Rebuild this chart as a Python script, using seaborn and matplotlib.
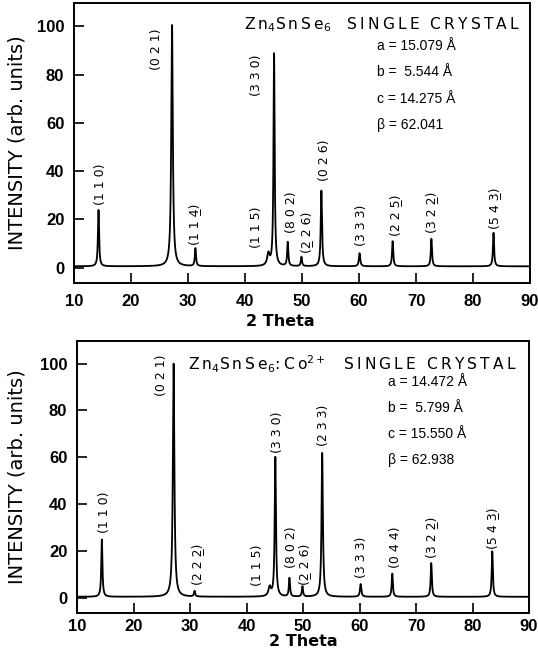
import numpy as np
import pandas as pd
import seaborn as sns
import matplotlib
matplotlib.use("Agg")
import matplotlib.pyplot as plt

# peak tables (2theta in deg, intensity in arb. units)
UL = "\u0332"  # combining low line -> negative index

hkl_top = ["(1 1 0)", "(0 2 1)", "(1 1 4" + UL + ")", "(1 1 5)", "(3 3 0)", "(8 0 2)",
           "(2" + UL + " 2 6)", "(0 2 6)", "(3 3 3)", "(2 2 5" + UL + ")",
           "(3 2 2" + UL + ")", "(5 4 3" + UL + ")"]
pos_top = [14.3, 27.2, 31.3, 44.1, 45.1, 47.5, 49.9, 53.4, 60.1, 65.9, 72.7, 83.6]
height_top = [24, 100.5, 8, 5.5, 88.5, 10.5, 4.5, 32, 6, 11, 12, 14.5]
width_top = [0.12, 0.16, 0.12, 0.25, 0.12, 0.12, 0.12, 0.13, 0.14, 0.12, 0.12, 0.12]

hkl_bot = ["(1 1 0)", "(0 2 1)", "(2 2 2" + UL + ")", "(1 1 5)", "(3 3 0)", "(8 0 2)",
           "(2" + UL + " 2 6)", "(2 3 3)", "(3 3 3)", "(0 4 4)",
           "(3 2 2" + UL + ")", "(5 4 3" + UL + ")"]
pos_bot = [14.4, 27.1, 30.8, 44.1, 45.1, 47.6, 49.9, 53.4, 60.2, 65.8, 72.7, 83.5]
height_bot = [25, 100, 3, 4.5, 60, 8.5, 5, 62, 6, 10.5, 15, 20]
width_bot = [0.12, 0.16, 0.12, 0.25, 0.13, 0.12, 0.12, 0.14, 0.14, 0.12, 0.12, 0.12]

baseline = 0.6

params_top = ["a = 15.079 Å", "b =  5.544 Å", "c = 14.275 Å", "β = 62.041"]
params_bot = ["a = 14.472 Å", "b =  5.799 Å", "c = 15.550 Å", "β = 62.938"]
title_top = ["Zn", "$_4$", "SnSe", "$_6$", "  SINGLE CRYSTAL"]
title_bot = ["Zn", "$_4$", "SnSe", "$_6$", ":Co", "$^{2+}$", "  SINGLE CRYSTAL"]

# where each hkl label sits (x centre, bottom of text) in data units
lab_top = [(14.7, 26), (24.4, 82), (31.1, 9.5), (42.0, 8), (42.0, 71), (48.2, 14.5),
           (50.8, 6), (54.0, 36), (60.5, 9), (66.4, 13), (72.7, 14.5), (83.7, 16)]
lab_bot = [(14.9, 28), (25.0, 86), (31.3, 5.5), (42.0, 5), (45.4, 62), (47.9, 13),
           (50.3, 5.5), (53.7, 65), (60.3, 8.5), (66.3, 13), (72.8, 17), (83.6, 21)]


def pattern(pos, height, width):
    tt = np.linspace(10, 90, 6000)
    y = np.full_like(tt, baseline)
    for p, h, w in zip(pos, height, width):
        y += (h - baseline) * w**2 / ((tt - p) ** 2 + w**2)
    return pd.DataFrame({"2theta": tt, "I": y})


def tracked(parts):
    # letter-spaced title: thin spaces between plain characters, mathtext left alone
    out = ""
    for p in parts:
        if p.startswith("$"):
            out += p
        else:
            out += "\u2009".join(p)
    return out


sns.set_style("ticks")
plt.rcParams["font.family"] = ["DejaVu Sans"]
plt.rcParams["mathtext.default"] = "regular"
for k in ["text.color", "axes.labelcolor", "xtick.color", "ytick.color", "axes.edgecolor"]:
    plt.rcParams[k] = "black"

fig = plt.figure(figsize=(5.38, 6.6), dpi=100)
ax1 = fig.add_axes([74 / 538, 1 - 283 / 660, (530 - 74) / 538, (283 - 3) / 660])
ax2 = fig.add_axes([77 / 538, 1 - 613 / 660, (529 - 77) / 538, (613 - 341) / 660])

panels = [
    (ax1, pos_top, height_top, width_top, hkl_top, lab_top, title_top, (39.9, 100.5), params_top, 63.2,
     8.0, (0.452, -0.112), -0.105),
    (ax2, pos_bot, height_bot, width_bot, hkl_bot, lab_bot, title_bot, (29.6, 99.5), params_bot, 65.0,
     4.0, (0.5, -0.077), -0.111),
]

for ax, pos, hgt, wid, hkl, labs, title, tpos, params, px, xpad, xlab, ylab_x in panels:
    df = pattern(pos, hgt, wid)
    sns.lineplot(data=df, x="2theta", y="I", ax=ax, color="black", lw=1.3)
    ax.set_xlim(10, 90)
    ax.set_ylim(-6.3, 109.6)
    ax.set_xticks(range(10, 91, 10))
    ax.set_yticks(range(0, 101, 20))
    ax.tick_params(direction="in", length=7, width=1.2)
    ax.tick_params(axis="x", pad=xpad)
    ax.tick_params(axis="y", pad=7)
    for t in ax.get_xticklabels() + ax.get_yticklabels():
        t.set_fontfamily("Liberation Sans")
        t.set_fontweight("bold")
        t.set_fontsize(12)
    for s in ax.spines.values():
        s.set_linewidth(1.4)
        s.set_visible(True)
    ax.set_xlabel("2 Theta", fontsize=11.5, fontweight="bold")
    ax.xaxis.set_label_coords(*xlab)
    ax.set_ylabel("INTENSITY (arb. units)", fontsize=14)
    ax.yaxis.set_label_coords(ylab_x, 0.5)

    for lbl, (lx, ly) in zip(hkl, labs):
        ax.text(lx, ly, lbl, rotation=90, ha="center", va="bottom", fontsize=9)

    ax.text(tpos[0], tpos[1], tracked(title), ha="left", va="center", fontsize=11.2)
    for i, p in enumerate(params):
        ax.text(px, 92 - 11 * i, p, ha="left", va="center", fontsize=10,
                family="Liberation Sans")

fig.savefig("out.png", dpi=100)
